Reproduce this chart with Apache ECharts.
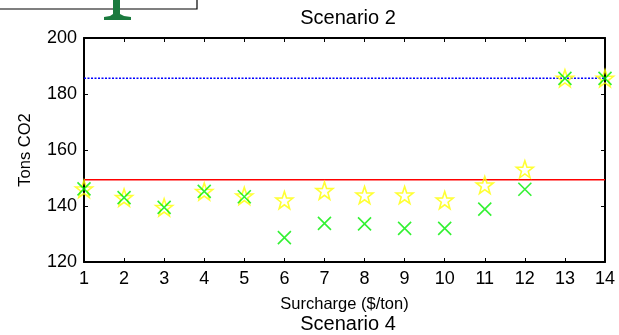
<!DOCTYPE html>
<html>
<head>
<meta charset="utf-8">
<script src="https://cdn.jsdelivr.net/npm/echarts@6/dist/echarts.min.js"></script>
<style>html,body{margin:0;padding:0;background:#fff}#c{width:619px;height:335px}</style>
</head>
<body>
<div id="c"></div>
<script>
// ---- data ----
const surcharge = [1,2,3,4,5,6,7,8,9,10,11,12,13,14];
const starVals  = [146.1,143.0,139.5,145.2,143.6,142.1,145.5,143.9,143.9,142.1,147.5,153.1,185.6,185.6];
const crossVals = [146.1,143.0,139.5,145.2,143.3,128.7,133.8,133.6,132.0,132.0,138.9,146.0,185.6,185.6];
const blueLevel = 185.6;
const redLevel  = 149.4;
const xRange = [1, 14];
const yTicks = [120, 140, 160, 180, 200];

const FONT = '"Liberation Sans", Arial, sans-serif';
const STAR = 'path://M10,0 L12.35,6.76 L19.51,6.91 L13.80,11.24 L15.88,18.09 L10,14 L4.12,18.09 L6.20,11.24 L0.49,6.91 L7.65,6.76 Z';
const CROSS = 'path://M0,0 L10,10 M10,0 L0,10';

const chart = echarts.init(document.getElementById('c'), null, {renderer: 'canvas'});
const axisCommon = {
  axisLine: {show: true, onZero: false, lineStyle: {color: '#000', width: 2}},
  axisTick: {show: true, inside: true, length: 4, lineStyle: {color: '#000', width: 1}},
  splitLine: {show: false}
};
chart.setOption({
  animation: false,
  backgroundColor: '#fff',
  grid: {left: 84, right: 14, top: 38, bottom: 73, containLabel: false},
  title: [
    {text: 'Scenario 2', left: 343, top: 3, textAlign: 'center',
     textStyle: {fontFamily: FONT, fontSize: 20, fontWeight: 'normal', color: '#000'}},
    {text: 'Scenario 4', left: 343, top: 309, textAlign: 'center',
     textStyle: {fontFamily: FONT, fontSize: 20, fontWeight: 'normal', color: '#000'}}
  ],
  xAxis: [
    Object.assign({type: 'value', min: xRange[0], max: xRange[1], interval: 1,
      position: 'bottom',
      name: 'Surcharge ($/ton)', nameLocation: 'middle', nameGap: 34,
      nameTextStyle: {fontFamily: FONT, fontSize: 16.5, color: '#000'},
      axisLabel: {fontFamily: FONT, fontSize: 18, color: '#000', margin: 8}}, axisCommon),
    Object.assign({type: 'value', min: xRange[0], max: xRange[1], interval: 1,
      position: 'top', axisLabel: {show: false}}, axisCommon)
  ],
  yAxis: [
    Object.assign({type: 'value', min: yTicks[0], max: yTicks[yTicks.length-1], interval: 20,
      position: 'left',
      name: 'Tons CO2', nameLocation: 'middle', nameGap: 50, nameRotate: 90,
      nameTextStyle: {fontFamily: FONT, fontSize: 16.5, color: '#000'},
      axisLabel: {fontFamily: FONT, fontSize: 18, color: '#000', margin: 7}}, axisCommon),
    Object.assign({type: 'value', min: yTicks[0], max: yTicks[yTicks.length-1], interval: 20,
      position: 'right', axisLabel: {show: false}}, axisCommon)
  ],
  series: [
    {type: 'line', data: [[xRange[0], blueLevel], [xRange[1], blueLevel]], symbol: 'none',
     lineStyle: {color: '#0000ff', width: 1.5, type: [2, 1.5]}, z: 1},
    {type: 'line', data: [[xRange[0], redLevel], [xRange[1], redLevel]], symbol: 'none',
     lineStyle: {color: '#ff0000', width: 1.5}, z: 1},
    {type: 'scatter', data: surcharge.map((x, i) => [x, starVals[i]]),
     symbol: STAR, symbolSize: 17,
     itemStyle: {color: 'rgba(0,0,0,0)', borderColor: '#ffff00', borderWidth: 1.6}, z: 2},
    {type: 'scatter', data: surcharge.map((x, i) => [x, crossVals[i]]),
     symbol: CROSS, symbolSize: 13,
     itemStyle: {color: 'rgba(0,0,0,0)', borderColor: '#00ee00', borderWidth: 1.6}, z: 3}
  ],
  graphic: [
    {type: 'rect', shape: {x: -2, y: -2, width: 199, height: 11},
     style: {fill: '#fff', stroke: '#000', lineWidth: 1.2}},
    {type: 'polygon', shape: {points: [[113,0],[120,0],[120,14],[124,16],[131,17],[131,20],[104,20],[104,17],[110,16],[113,14]]},
     style: {fill: '#1a7a3e'}}
  ]
});
</script>
</body>
</html>
